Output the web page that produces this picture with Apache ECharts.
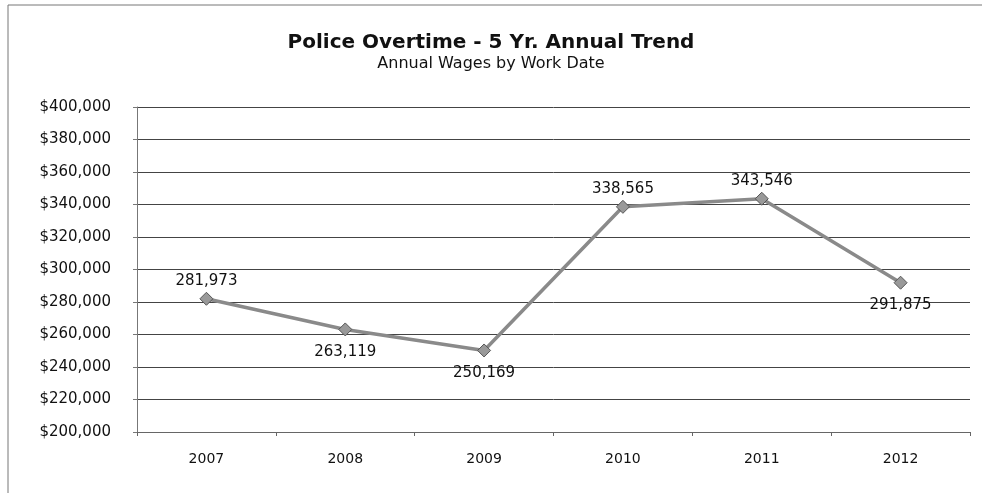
<!DOCTYPE html>
<html>
<head>
<meta charset="utf-8">
<script src="https://cdn.jsdelivr.net/npm/echarts@6/dist/echarts.min.js"></script>
<style>
html,body{margin:0;padding:0;background:#fff;}
#chart{width:982px;height:493px;}
</style>
</head>
<body>
<div id="chart"></div>
<script>
// Police overtime wages by year
const years = ['2007', '2008', '2009', '2010', '2011', '2012'];
const wages = [281973, 263119, 250169, 338565, 343546, 291875];
// label placement for each point
const labelSides = ['top', 'bottom', 'bottom', 'top', 'top', 'bottom'];

const font = '"DejaVu Sans", "Liberation Sans", Arial, sans-serif';
const chart = echarts.init(document.getElementById('chart'));

function fmtNum(v) {
  return v.toLocaleString('en-US');
}

chart.setOption({
  animation: false,
  backgroundColor: '#fff',
  title: {
    text: 'Police Overtime - 5 Yr. Annual Trend',
    subtext: 'Annual Wages by Work Date',
    left: 'center',
    top: 28,
    itemGap: 3,
    textStyle: { fontFamily: font, fontSize: 20, fontWeight: 'bold', color: '#111' },
    subtextStyle: { fontFamily: font, fontSize: 16, color: '#111' }
  },
  graphic: [{
    type: 'polyline',
    shape: { points: [[8, 493], [8, 5], [982, 5]] },
    style: { stroke: '#777', lineWidth: 1, fill: null }
  }],
  grid: { left: 137, right: 12, top: 107, bottom: 61 },
  xAxis: {
    type: 'category',
    data: years,
    boundaryGap: true,
    axisLine: { lineStyle: { color: '#666', width: 1 } },
    axisTick: { show: true, length: 4, lineStyle: { color: '#666' } },
    axisLabel: { fontFamily: font, fontSize: 14, color: '#111', margin: 20 }
  },
  yAxis: {
    type: 'value',
    min: 200000,
    max: 400000,
    interval: 20000,
    axisLine: { show: true, lineStyle: { color: '#777', width: 1 } },
    axisTick: { show: true, length: 4, lineStyle: { color: '#777' } },
    splitLine: { lineStyle: { color: '#444', width: 1 } },
    axisLabel: {
      fontFamily: font, fontSize: 15, color: '#111', margin: 26,
      formatter: v => '$' + fmtNum(v)
    }
  },
  series: [{
    type: 'line',
    data: wages.map((v, i) => ({
      value: v,
      label: {
        position: labelSides[i],
        distance: labelSides[i] === 'top' ? 3 : 8
      }
    })),
    symbol: 'diamond',
    symbolSize: 13,
    lineStyle: { color: '#8a8a8a', width: 3.5 },
    itemStyle: { color: '#999', borderColor: '#555', borderWidth: 1 },
    label: {
      show: true,
      fontFamily: font,
      fontSize: 15,
      color: '#111',
      formatter: p => fmtNum(p.value)
    }
  }]
});
</script>
</body>
</html>
